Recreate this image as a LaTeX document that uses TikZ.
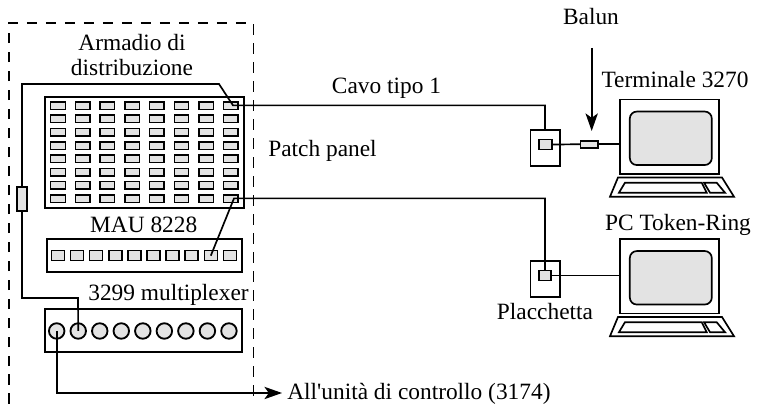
\documentclass[tikz,border=0pt]{standalone}
\usepackage{fontspec}
\setmainfont{Liberation Serif}
\newfontfamily\plainserif{Liberation Serif}
\usetikzlibrary{arrows.meta}

\begin{document}
\begin{tikzpicture}[
  x=0.02cm, y=-0.02cm,
  font=\fontsize{13.3}{13.8}\selectfont,
  >={Stealth[length=10pt, width=7pt, inset=2.5pt]},
  case/.style={draw, line width=1.15pt, inner sep=0pt, outer sep=0pt},
  plate/.style={draw, line width=0.95pt, inner sep=0pt, outer sep=0pt, minimum width=0.59cm, minimum height=0.72cm},
  patchport/.style={draw, line width=0.85pt, fill=portgray, inner sep=0pt, outer sep=0pt, minimum width=0.29cm, minimum height=0.15cm},
  mauport/.style={draw, line width=0.9pt, fill=portgray, inner sep=0pt, outer sep=0pt, minimum width=0.26cm, minimum height=0.2cm},
  muxport/.style={draw, circle, line width=1.05pt, fill=portgray, inner sep=0pt, outer sep=0pt, minimum size=0.31cm},
  smallport/.style={draw, line width=1pt, fill=portgray, inner sep=0pt, outer sep=0pt},
  cable/.style={line width=0.95pt},
  device/.style={line width=0.95pt},
  txt/.style={anchor=base, inner sep=0pt}
]
\definecolor{portgray}{gray}{0.89}
\useasboundingbox (0,0) rectangle (758,404);

% --- Armadio (tratteggiato, aperto in basso) ---
\draw[line width=0.95pt, dash pattern=on 0.21cm off 0.17cm] (9,404) -- (9,23) -- (253.5,23) -- (253.5,404);

% --- Patch panel ---
\node[case, minimum width=3.98cm, minimum height=2.22cm] (panel) at (144.5,152.5) {};
\foreach \c in {1,...,8}
  \foreach \r in {1,...,8}
    \node[patchport] (patch-\c-\r) at ({58+(\c-1)*24.7},{105.7+(\r-1)*13.3}) {};

% --- MAU ---
\node[case, minimum width=3.9cm, minimum height=0.66cm] (mau) at (144.5,255.5) {};
\foreach \c in {1,...,10}
  \node[mauport] (mau-\c) at ({58+(\c-1)*19.1},255.7) {};

% --- Multiplexer ---
\node[case, minimum width=3.94cm, minimum height=0.86cm] (mux) at (143.5,330.5) {};
\foreach \c in {1,...,9}
  \node[muxport] (mux-\c) at ({56.7+(\c-1)*21.53},331) {};

% --- Terminali e tastiere ---
\foreach \name/\dy in {term/0, pc/139.5} {
  \node[draw, device, inner sep=0pt, outer sep=0pt, minimum width=1.98cm, minimum height=1.49cm] (monitor-\name) at (669.5,{136.7+\dy}) {};
  \node[draw, device, fill=portgray, rounded corners=0.14cm, inner sep=0pt, minimum width=1.64cm, minimum height=1.07cm] (screen-\name) at (670.8,{138.3+\dy}) {};
  \draw[device] (618,{177.5+\dy}) -- (722,{177.5+\dy}) -- (734,{196.7+\dy}) -- (610,{196.7+\dy}) -- cycle;
  \draw[device] (625,{182.7+\dy}) -- (701.7,{182.7+\dy}) -- (706.7,{192.7+\dy}) -- (619,{192.7+\dy}) -- cycle;
  \draw[device] (704,{182.7+\dy}) -- (716.7,{182.7+\dy}) -- (725,{192.7+\dy}) -- (710,{192.7+\dy}) -- cycle;
}

% --- Placchette ---
\node[plate] (wall-term) at (545.3,148) {};
\node[smallport, minimum width=0.25cm, minimum height=0.2cm] (jack-term) at (545.5,144.6) {};
\node[plate] (wall-pc) at (545.3,278.7) {};
\node[smallport, minimum width=0.25cm, minimum height=0.2cm] (jack-pc) at (545,275.5) {};

% --- Balun ---
\node[smallport, minimum width=0.2cm, minimum height=0.48cm] (balun-mux) at (22,199) {};
\node[smallport, minimum width=0.35cm, minimum height=0.14cm] (balun-term) at (589.2,144.2) {};

% --- Cavi ---
\coordinate (kink-up) at (233,105.4);
\coordinate (kink-down) at (234,198.4);
\coordinate (bend) at (219,84);
\draw[cable] (balun-mux.north) -- (22,84) -- (bend) -- (kink-up) -- (545,105.4) -- (wall-term.north -| 545,0);
\draw[cable] (mau-9.center) -- (kink-down) -- (545,198.4) -- (jack-pc.north -| 545,0);
\draw[cable] (balun-mux.south) |- (78,298) -- (mux-2.center);
\draw[cable] (jack-term.east) -- (balun-term.west);
\draw[cable] (balun-term.east) -- (monitor-term.west |- balun-term.east);
\draw[cable] (jack-pc.east) -- (monitor-pc.west |- jack-pc.east);

% --- Frecce ---
\coordinate (ctrl-tip) at (282,393);
\coordinate (balun-from) at (591.7,48);
\coordinate (balun-tip) at (591.7,131);
\draw[cable, ->] (mux-1.center) |- (ctrl-tip);
\draw[cable, ->] (balun-from) -- (balun-tip);

% --- Etichette ---
\node[align=center, inner sep=0pt] (lbl-cabinet) at (132,55) {Armadio di\\distribuzione};
\node[txt] (lbl-cable) at (386.5,94) {Cavo tipo 1};
\node[txt] (lbl-panel) at (322.5,157) {Patch panel};
\node[txt] (lbl-mau) at (143.7,233) {MAU 8228};
\node[txt] (lbl-mux) at (168.5,301) {3299 multiplexer};
\node[txt, anchor=base west] (lbl-ctrl) at (287,400) {All{\plainserif '}unità di controllo (3174)};
\node[txt] (lbl-balun) at (591,25) {Balun};
\node[txt] (lbl-term) at (675,87.7) {Terminale 3270};
\node[txt] (lbl-pc) at (678,231) {PC Token-Ring};
\node[txt] (lbl-wall) at (545,320) {Placchetta};

\end{tikzpicture}
\end{document}
